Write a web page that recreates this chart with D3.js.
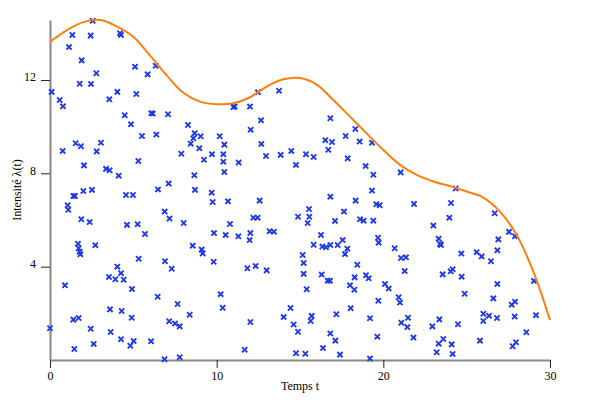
<!DOCTYPE html>
<html><head><meta charset="utf-8">
<script src="https://cdn.jsdelivr.net/npm/d3@7/dist/d3.min.js"></script>
<style>
body{margin:0;background:#fff;}
svg{font-family:"Liberation Serif","Times New Roman",serif;}
</style></head>
<body><svg id="c" width="600" height="400"></svg>
<script>
// intensity curve samples lambda(t) at t = 0..30
const curveT = d3.range(0, 31);
const curveLambda = [13.64, 14.13, 14.48, 14.57, 14.3, 13.85, 13.05, 12.2, 11.45, 11.07, 10.96, 11.0, 11.26, 11.72, 12.03, 12.08, 11.8, 11.14, 10.43, 9.71, 9.0, 8.36, 7.93, 7.65, 7.45, 7.22, 6.96, 6.36, 5.36, 3.79, 1.71];
// scattered events (time, height)
const eventT = [2.56,1.34,2.44,4.20,4.26,1.14,1.90,2.78,5.10,5.86,6.34,0.10,1.78,2.46,4.04,3.56,5.18,0.58,0.78,4.48,6.08,6.16,7.08,4.86,6.38,5.52,0.76,1.54,1.86,3.06,2.80,5.30,2.04,3.36,3.58,4.12,7.12,8.28,8.68,8.60,9.04,8.44,8.96,10.18,10.46,7.88,9.24,9.72,10.40,10.40,11.32,10.46,8.66,8.70,11.00,11.08,12.00,12.48,13.74,12.66,12.04,12.68,12.96,13.84,14.48,14.76,16.82,18.32,17.74,16.52,16.92,16.70,18.58,19.32,15.36,15.82,17.86,18.94,19.40,21.04,19.32,24.34,1.40,1.50,2.00,2.52,4.56,4.98,6.48,1.06,1.10,6.88,7.17,1.88,2.38,4.62,5.26,5.70,1.68,1.72,1.78,1.82,2.72,5.32,6.90,4.04,4.26,3.54,3.92,4.42,0.90,4.92,6.46,3.60,4.30,1.40,1.72,4.90,7.15,0.00,2.44,3.64,4.26,5.02,4.82,6.06,2.62,1.46,6.87,9.70,9.76,10.68,12.58,8.02,10.80,12.20,12.46,9.84,10.54,11.30,12.02,11.98,13.18,13.44,8.56,9.10,9.16,7.30,9.82,11.84,12.34,13.00,10.24,10.36,7.66,8.38,7.50,7.78,12.02,14.43,14.02,14.62,11.68,7.78,14.76,16.82,18.34,19.58,19.78,21.84,15.54,14.88,15.56,15.46,17.10,17.64,18.60,18.82,19.40,16.26,17.56,17.26,16.34,16.56,16.82,15.82,17.84,17.70,19.68,19.72,20.68,21.06,21.36,15.16,15.22,18.44,15.22,16.30,16.66,16.80,18.28,18.96,19.12,21.28,18.00,18.26,20.10,20.32,15.40,20.92,21.00,19.70,18.04,15.70,15.64,17.18,19.20,21.48,21.08,21.44,14.88,16.82,19.64,21.81,17.12,16.38,15.32,17.40,19.20,24.06,26.68,23.96,23.00,23.32,23.40,23.46,27.54,27.90,26.90,26.84,24.68,25.60,25.90,26.46,23.56,24.04,24.16,24.70,26.84,29.04,24.88,26.60,27.70,27.90,26.00,26.00,26.34,26.82,27.88,29.16,23.36,22.94,24.48,28.58,23.60,23.32,24.10,25.80,27.96,27.76,23.20,24.16];
const eventU = [14.54,13.93,13.90,14.00,13.93,13.41,12.84,12.29,12.57,12.24,12.61,11.49,11.84,11.83,11.49,11.17,11.40,11.14,10.87,10.49,10.57,10.56,10.53,10.10,9.66,9.60,8.96,9.29,9.16,9.31,8.94,8.53,8.34,8.19,8.13,7.90,7.56,10.07,9.72,9.50,9.59,9.27,9.07,9.59,9.23,8.84,8.58,8.82,8.82,8.50,8.46,8.06,7.92,7.29,10.84,10.86,10.86,11.47,11.54,10.27,9.87,9.26,8.74,8.79,8.96,8.36,10.36,9.90,9.60,9.42,9.34,9.01,9.36,9.31,8.82,8.70,8.64,8.31,7.94,8.04,7.26,7.35,7.03,7.03,7.24,7.29,7.07,7.07,7.31,6.63,6.44,6.36,6.06,6.03,5.91,5.79,5.82,5.40,4.98,4.79,4.64,4.53,4.92,4.34,4.23,4.00,3.72,3.56,3.46,3.44,3.20,3.04,2.71,2.17,2.10,1.73,1.80,1.81,1.66,1.36,1.34,1.20,0.89,0.81,0.61,0.80,0.69,0.47,0.03,7.17,6.77,6.80,6.83,5.87,5.83,6.10,6.10,5.44,5.36,5.30,5.44,5.14,5.52,5.50,4.90,4.73,4.57,3.91,4.21,3.93,4.03,3.84,2.82,2.24,2.40,1.94,1.56,1.44,1.63,2.23,1.84,1.52,0.44,0.12,0.29,7.00,6.83,6.67,6.63,6.69,6.47,6.14,6.14,5.87,5.96,6.36,6.03,5.97,5.97,5.36,5.14,4.93,4.86,4.83,4.93,4.94,4.77,4.54,5.24,5.03,4.79,4.37,4.40,4.50,4.16,4.08,3.69,3.66,3.40,3.40,3.54,3.63,3.50,3.81,3.20,3.01,3.26,3.06,3.03,2.69,2.46,2.54,2.22,1.89,1.67,1.96,1.79,1.81,1.60,1.41,1.21,1.14,1.00,0.96,0.83,0.51,0.27,0.23,0.06,6.73,6.29,6.10,5.76,5.20,4.97,4.93,5.49,5.30,5.17,4.70,4.56,4.62,4.44,4.23,3.67,3.80,3.89,3.57,3.26,3.39,2.84,2.64,2.37,2.50,1.98,1.67,1.90,1.80,1.86,1.92,1.74,1.44,1.53,1.19,0.90,0.70,0.67,0.83,0.76,0.59,0.33,0.26];
const xTicks = [0, 10, 20, 30];
const yTicks = [4, 8, 12];
const xTitle = "Temps t";
const yTitle = "Intensité λ(t)";

const W = 600, H = 400, m = {top: 20, right: 50, bottom: 40, left: 50};
const svg = d3.select("#c");
const x = d3.scaleLinear().domain([0, 30]).range([m.left, W - m.right]);
const y = d3.scaleLinear().domain([0, d3.max(curveLambda)]).range([H - m.bottom, m.top]);

const xa = svg.append("g").attr("transform", `translate(0,${H - m.bottom})`)
  .call(d3.axisBottom(x).tickValues(xTicks).tickFormat(d3.format("d")).tickSize(8).tickSizeOuter(0).tickPadding(3));
const ya = svg.append("g").attr("transform", `translate(${m.left},0)`)
  .call(d3.axisLeft(y).tickValues(yTicks).tickFormat(d3.format("d")).tickSize(9).tickSizeOuter(0).tickPadding(5));
[xa, ya].forEach(g => {
  g.select(".domain").attr("stroke", "#888").attr("stroke-width", 2);
  g.selectAll(".tick line").attr("stroke", "#222");
  g.selectAll(".tick text").attr("font-family", "Liberation Serif").attr("font-size", 12).attr("fill", "#000");
});
ya.selectAll(".tick text").attr("dy", "0.08em");

const pts = eventT.map((t, i) => ({t, u: eventU[i]}));
svg.append("g").selectAll("path").data(pts).join("path")
  .attr("transform", d => `translate(${x(d.t)},${y(d.u)})`)
  .attr("d", "M-2.6,-2.6L2.6,2.6M-2.6,2.6L2.6,-2.6")
  .attr("stroke", "#1f3ae6").attr("stroke-width", 1.9).attr("fill", "none");

const line = d3.line().x((d, i) => x(curveT[i])).y(d => y(d)).curve(d3.curveCatmullRom.alpha(0.5));
svg.append("path").datum(curveLambda).attr("d", line)
  .attr("fill", "none").attr("stroke", "#ff7f0e").attr("stroke-width", 2);

svg.append("text").attr("x", (m.left + W - m.right) / 2).attr("y", 390)
  .attr("text-anchor", "middle").attr("font-size", 12).text(xTitle);
svg.append("text").attr("transform", `translate(17,${(m.top + H - m.bottom) / 2}) rotate(-90)`)
  .attr("text-anchor", "middle").attr("dy", "0.35em").attr("font-size", 12).text(yTitle);
</script></body></html>
